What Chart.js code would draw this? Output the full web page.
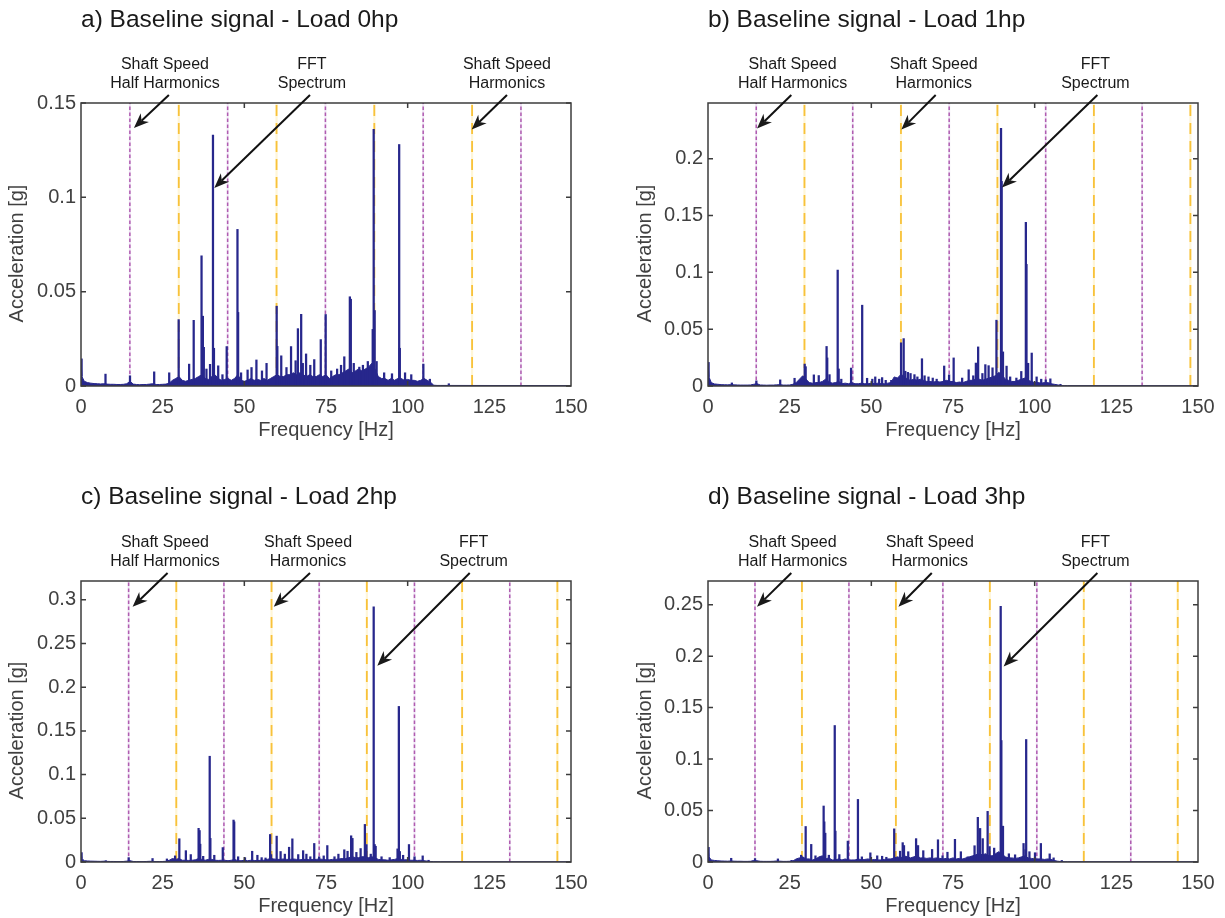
<!DOCTYPE html>
<html><head><meta charset="utf-8">
<script src="https://cdn.jsdelivr.net/npm/chart.js@4.4.1/dist/chart.umd.min.js"></script>
<style>
html,body{margin:0;padding:0;background:#fff;}
body{width:1225px;height:918px;position:relative;overflow:hidden;}
canvas{position:absolute;}
</style></head><body>
<canvas id="ca" width="612" height="459" style="left:0;top:0"></canvas>
<canvas id="cb" width="613" height="459" style="left:612px;top:0"></canvas>
<canvas id="cc" width="612" height="459" style="left:0;top:459px"></canvas>
<canvas id="cd" width="613" height="459" style="left:612px;top:459px"></canvas>
<script>
// ---------------- DATA ----------------
const X_TICKS = [0, 25, 50, 75, 100, 125, 150];
const X_TICK_MARKS = [50, 100];
const TITLES = ['a) Baseline signal - Load 0hp','b) Baseline signal - Load 1hp','c) Baseline signal - Load 2hp','d) Baseline signal - Load 3hp'];
const X_LABEL = 'Frequency [Hz]';
const Y_LABEL = 'Acceleration [g]';

// frequencies of the noise-floor envelope samples (Hz)
const FLOOR_HZ = [0, 0.3,
 1,2,3,4,5,6,7,8,9,10,
 11,12,13,14,15,16,17,18,19,20,
 21,22,23,24,25,26,27,28,29,30,
 31,32,33,34,35,36,37,38,39,40,
 41,42,43,44,45,46,47,48,49,50,
 51,52,53,54,55,56,57,58,59,60,
 61,62,63,64,65,66,67,68,69,70,
 71,72,73,74,75,76,77,78,79,80,
 81,82,83,84,85,86,87,88,89,90,
 91,92,93,94,95,96,97,98,99,100,
 101,102,103,104,105,106,107,108,109,110,
 150];

const A_FLOOR = [0.0145, 0.005,
 0.0025,0.0018,0.0015,0.0013,0.0012,0.0011,0.0012,0.0010,0.0009,0.0009,
 0.0008,0.0008,0.0009,0.0012,0.0025,0.0010,0.0008,0.0007,0.0008,0.0008,
 0.0010,0.0012,0.0008,0.0008,0.0009,0.0010,0.0015,0.0030,0.0040,0.0050,
 0.0030,0.0025,0.0030,0.0035,0.0040,0.0050,0.0060,0.0040,0.0035,0.0050,
 0.0060,0.0040,0.0030,0.0035,0.0040,0.0030,0.0040,0.0060,0.0030,0.0025,
 0.0030,0.0040,0.0030,0.0035,0.0030,0.0040,0.0030,0.0040,0.0050,0.0060,
 0.0050,0.0050,0.0060,0.0060,0.0070,0.0060,0.0070,0.0060,0.0050,0.0060,
 0.0050,0.0050,0.0060,0.0050,0.0060,0.0040,0.0050,0.0060,0.0060,0.0070,
 0.0080,0.0090,0.0070,0.0080,0.0090,0.0080,0.0090,0.0100,0.0120,0.0090,
 0.0050,0.0040,0.0040,0.0030,0.0040,0.0030,0.0040,0.0040,0.0030,0.0035,
 0.0030,0.0030,0.0025,0.0030,0.0040,0.0030,0.0020,0.0004,0.0003,0.0003,
 0.0002];
const B_FLOOR = [0.021, 0.008,
 0.0030,0.0018,0.0015,0.0012,0.0011,0.0010,0.0012,0.0010,0.0009,0.0008,
 0.0008,0.0008,0.0009,0.0015,0.0020,0.0009,0.0008,0.0007,0.0008,0.0008,
 0.0010,0.0012,0.0008,0.0008,0.0009,0.0015,0.0030,0.0060,0.0090,0.0060,
 0.0030,0.0025,0.0030,0.0030,0.0040,0.0060,0.0040,0.0025,0.0030,0.0040,
 0.0020,0.0025,0.0020,0.0030,0.0020,0.0020,0.0025,0.0020,0.0020,0.0025,
 0.0020,0.0025,0.0020,0.0020,0.0025,0.0030,0.0080,0.0070,0.0100,0.0090,
 0.0060,0.0050,0.0060,0.0050,0.0060,0.0050,0.0040,0.0040,0.0035,0.0040,
 0.0035,0.0040,0.0050,0.0040,0.0040,0.0030,0.0035,0.0030,0.0040,0.0050,
 0.0050,0.0060,0.0060,0.0050,0.0060,0.0070,0.0080,0.0090,0.0120,0.0100,
 0.0060,0.0050,0.0040,0.0040,0.0050,0.0060,0.0070,0.0050,0.0040,0.0030,
 0.0030,0.0025,0.0030,0.0030,0.0020,0.0015,0.0010,0.0004,0.0003,0.0003,
 0.0002];
const C_FLOOR = [0.011, 0.004,
 0.0015,0.0012,0.0010,0.0009,0.0008,0.0007,0.0009,0.0007,0.0006,0.0006,
 0.0005,0.0005,0.0006,0.0010,0.0015,0.0006,0.0005,0.0005,0.0005,0.0006,
 0.0008,0.0007,0.0005,0.0005,0.0006,0.0008,0.0020,0.0040,0.0030,0.0040,
 0.0020,0.0020,0.0018,0.0020,0.0025,0.0040,0.0030,0.0020,0.0030,0.0030,
 0.0020,0.0018,0.0020,0.0020,0.0015,0.0020,0.0030,0.0015,0.0015,0.0020,
 0.0015,0.0020,0.0018,0.0015,0.0020,0.0020,0.0030,0.0040,0.0035,0.0030,
 0.0030,0.0035,0.0030,0.0030,0.0035,0.0030,0.0025,0.0030,0.0030,0.0025,
 0.0030,0.0030,0.0035,0.0030,0.0025,0.0025,0.0030,0.0030,0.0035,0.0040,
 0.0040,0.0050,0.0060,0.0050,0.0050,0.0060,0.0060,0.0050,0.0060,0.0050,
 0.0030,0.0025,0.0025,0.0020,0.0025,0.0030,0.0040,0.0030,0.0025,0.0025,
 0.0020,0.0020,0.0018,0.0020,0.0015,0.0010,0.0006,0.0003,0.0003,0.0002,
 0.0002];
const D_FLOOR = [0.0145, 0.005,
 0.0020,0.0015,0.0012,0.0010,0.0009,0.0008,0.0010,0.0008,0.0007,0.0007,
 0.0006,0.0006,0.0007,0.0015,0.0012,0.0007,0.0006,0.0006,0.0006,0.0007,
 0.0010,0.0008,0.0006,0.0006,0.0007,0.0010,0.0030,0.0040,0.0050,0.0030,
 0.0030,0.0020,0.0030,0.0050,0.0060,0.0030,0.0040,0.0020,0.0020,0.0030,
 0.0020,0.0030,0.0020,0.0020,0.0020,0.0030,0.0020,0.0025,0.0030,0.0020,
 0.0025,0.0020,0.0020,0.0025,0.0030,0.0030,0.0040,0.0050,0.0040,0.0060,
 0.0050,0.0040,0.0050,0.0060,0.0040,0.0040,0.0035,0.0040,0.0035,0.0040,
 0.0035,0.0030,0.0035,0.0030,0.0040,0.0030,0.0035,0.0030,0.0040,0.0050,
 0.0060,0.0070,0.0080,0.0070,0.0080,0.0060,0.0060,0.0080,0.0100,0.0080,
 0.0050,0.0040,0.0040,0.0035,0.0040,0.0050,0.0060,0.0040,0.0035,0.0030,
 0.0030,0.0030,0.0025,0.0030,0.0025,0.0015,0.0008,0.0004,0.0003,0.0002,
 0.0002];

// spectral peaks (Hz, g)
const A_PEAK_HZ = [7.5,15.0,22.4,27.0,29.9,33.1,34.5,36.9,37.3,37.6,38.4,39.5,40.4,40.7,42.0,43.3,44.6,47.9,48.1,49.0,51.0,52.2,53.7,55.4,56.8,59.9,60.1,61.3,62.9,64.3,65.7,66.4,67.4,67.9,68.9,70.2,71.4,73.4,74.9,76.6,78.4,79.6,80.6,82.3,82.6,83.5,85.2,86.3,87.8,89.3,89.6,89.9,90.5,92.8,95.2,97.4,97.6,99.2,101.1,104.8,106.8,112.6];
const A_PEAK_G  = [0.0063,0.0054,0.0075,0.007,0.0352,0.0116,0.0348,0.069,0.037,0.0205,0.009,0.0115,0.133,0.02,0.0107,0.006,0.0209,0.083,0.039,0.007,0.0085,0.0098,0.0138,0.008,0.012,0.0423,0.021,0.016,0.0098,0.0209,0.0134,0.0304,0.038,0.012,0.017,0.011,0.014,0.0246,0.0379,0.008,0.009,0.011,0.0155,0.0473,0.046,0.012,0.010,0.011,0.013,0.03,0.136,0.04,0.013,0.007,0.0065,0.128,0.02,0.007,0.006,0.0116,0.0036,0.0012];
const B_PEAK_HZ = [7.3,14.8,22.1,26.5,29.6,29.9,32.4,33.9,36.3,36.5,37.2,39.7,40.0,40.8,43.8,47.2,48.7,50.3,51.2,52.4,53.3,54.4,56.1,59.1,59.9,60.4,61.2,62.0,63.2,64.1,65.5,66.3,67.5,68.8,70.0,72.3,73.8,75.2,77.8,79.8,81.2,82.0,82.7,84.0,84.9,85.9,87.1,88.3,89.7,89.9,90.3,91.4,92.5,94.4,95.9,97.3,97.5,98.0,99.1,100.6,102.0,103.4,104.8,107.9];
const B_PEAK_G  = [0.0027,0.0045,0.0054,0.0068,0.0193,0.017,0.0098,0.0092,0.0348,0.0247,0.01,0.102,0.015,0.006,0.0158,0.0711,0.0068,0.006,0.008,0.006,0.0074,0.005,0.005,0.038,0.0417,0.013,0.012,0.011,0.01,0.008,0.024,0.009,0.008,0.007,0.006,0.0176,0.0098,0.0247,0.007,0.0143,0.009,0.0202,0.0344,0.011,0.0188,0.0179,0.016,0.0579,0.2267,0.18,0.03,0.0175,0.008,0.007,0.0128,0.144,0.107,0.02,0.029,0.008,0.006,0.0054,0.0063,0.0015];
const C_PEAK_HZ = [7.6,14.6,21.9,26.3,28.8,30.1,32.1,33.6,36.0,36.3,36.5,37.4,39.4,39.6,40.8,43.4,46.7,46.9,48.1,50.2,52.4,54.0,55.3,56.5,57.9,58.2,59.9,61.1,62.4,63.7,64.7,66.5,68.0,69.0,70.2,71.4,72.9,74.3,75.4,77.6,78.8,80.6,81.6,82.7,83.1,84.3,85.6,86.9,87.4,88.7,89.6,89.9,90.2,92.0,94.5,96.9,97.3,97.6,98.6,100.4,102.1,104.6,106.4];
const C_PEAK_G  = [0.0015,0.005,0.004,0.0035,0.007,0.0266,0.013,0.0085,0.0385,0.036,0.0204,0.0065,0.121,0.027,0.0077,0.0165,0.048,0.046,0.006,0.005,0.0123,0.0077,0.005,0.0046,0.0315,0.0085,0.0296,0.012,0.009,0.0169,0.0265,0.0085,0.013,0.009,0.006,0.0212,0.006,0.007,0.0188,0.006,0.009,0.014,0.0123,0.030,0.027,0.011,0.0154,0.043,0.02,0.009,0.292,0.02,0.018,0.006,0.005,0.015,0.178,0.012,0.0077,0.02,0.006,0.007,0.002];
const D_PEAK_HZ = [7.1,14.4,21.4,25.6,28.5,29.9,31.6,32.9,35.4,35.6,35.9,37.0,38.8,39.0,40.2,42.8,45.9,47.1,49.7,51.8,53.3,54.6,57.0,58.8,59.6,60.0,61.3,63.7,64.3,65.9,68.6,70.4,71.8,73.3,75.6,77.4,79.5,81.6,82.6,83.3,84.1,85.6,86.2,87.6,89.6,89.8,90.3,92.1,94.0,96.6,97.2,97.4,98.4,100.1,101.9,104.6,105.8,108.3];
const D_PEAK_G  = [0.0036,0.0033,0.003,0.0016,0.0066,0.0345,0.0171,0.006,0.0544,0.039,0.028,0.0066,0.1326,0.03,0.0072,0.0203,0.0608,0.005,0.0089,0.006,0.0056,0.0046,0.0322,0.0105,0.0188,0.016,0.01,0.0227,0.016,0.011,0.0122,0.0216,0.006,0.0095,0.022,0.01,0.005,0.0158,0.0434,0.0326,0.0227,0.0492,0.015,0.0135,0.2483,0.118,0.0348,0.008,0.007,0.018,0.012,0.119,0.01,0.009,0.018,0.0079,0.004,0.0015];

// shaft speed half harmonics / harmonics (Hz)
const A_HALF_HZ = [14.96, 44.89, 74.82, 104.75, 134.68];
const A_HARM_HZ = [29.93, 59.86, 89.79, 119.72];
const B_HALF_HZ = [14.77, 44.30, 73.83, 103.37, 132.90];
const B_HARM_HZ = [29.53, 59.07, 88.60, 118.13, 147.67];
const C_HALF_HZ = [14.58, 43.75, 72.92, 102.08, 131.25];
const C_HARM_HZ = [29.17, 58.33, 87.50, 116.67, 145.83];
const D_HALF_HZ = [14.38, 43.14, 71.90, 100.66, 129.42];
const D_HARM_HZ = [28.76, 57.52, 86.28, 115.04, 143.80];

// y axis limits and tick labels
const A_YMAX = 0.15,  A_Y_TICKS = [0, 0.05, 0.1, 0.15];
const B_YMAX = 0.249, B_Y_TICKS = [0, 0.05, 0.1, 0.15, 0.2];
const C_YMAX = 0.3215, C_Y_TICKS = [0, 0.05, 0.1, 0.15, 0.2, 0.25, 0.3];
const D_YMAX = 0.273, D_Y_TICKS = [0, 0.05, 0.1, 0.15, 0.2, 0.25];

// annotation texts and arrow targets
const NOTE_HALF = ['Shaft Speed', 'Half Harmonics'];
const NOTE_HARM = ['Shaft Speed', 'Harmonics'];
const NOTE_FFT  = ['FFT', 'Spectrum'];
const A_NOTES = [
 {lines: NOTE_HALF, textHz: 25.7, tailHz: 26.9, tipHz: 16.2, tipG: 0.1368},
 {lines: NOTE_FFT,  textHz: 70.7, tailHz: 70.1, tipHz: 40.8, tipG: 0.105},
 {lines: NOTE_HARM, textHz: 130.4, tailHz: 130.4, tipHz: 119.6, tipG: 0.136}];
const B_NOTES = [
 {lines: NOTE_HALF, textHz: 25.9, tailHz: 25.5, tipHz: 15.0, tipG: 0.2265},
 {lines: NOTE_HARM, textHz: 69.1, tailHz: 69.7, tipHz: 59.2, tipG: 0.2256},
 {lines: NOTE_FFT,  textHz: 118.6, tailHz: 119.2, tipHz: 90.0, tipG: 0.1746}];
const C_NOTES = [
 {lines: NOTE_HALF, textHz: 25.7, tailHz: 26.5, tipHz: 15.8, tipG: 0.292},
 {lines: NOTE_HARM, textHz: 69.5, tailHz: 70.1, tipHz: 59.0, tipG: 0.292},
 {lines: NOTE_FFT,  textHz: 120.2, tailHz: 119.0, tipHz: 90.7, tipG: 0.2244}];
const D_NOTES = [
 {lines: NOTE_HALF, textHz: 25.9, tailHz: 25.5, tipHz: 15.0, tipG: 0.248},
 {lines: NOTE_HARM, textHz: 67.9, tailHz: 68.5, tipHz: 58.3, tipG: 0.248},
 {lines: NOTE_FFT,  textHz: 118.6, tailHz: 119.2, tipHz: 90.5, tipG: 0.190}];

// ---------------- STYLE / LAYOUT ----------------
const NAVY = '#27278c';
const MAG = '#b05cb0', MAG_PALE = '#eee5f4';
const YEL = '#f8c23a', YEL_PALE = '#fff6d8';
const AXIS = '#3c3c3c', TXT = '#404040';
const FONT = '"Liberation Sans", Arial, Helvetica, sans-serif';
Chart.defaults.font.family = FONT;

const LAYOUTS = {
 ca: {yW: 81, padR: 41, tTop: 5.6, tBot: 68.6, xH: 73, xtBot: 16.3, ytX: 17.5},
 cb: {yW: 96, padR: 27, tTop: 5.6, tBot: 68.6, xH: 73, xtBot: 16.3, ytX: 33},
 cc: {yW: 81, padR: 41, tTop: 23.6, tBot: 69.6, xH: 56, xtBot: 0, ytX: 17.5},
 cd: {yW: 96, padR: 27, tTop: 23.6, tBot: 69.6, xH: 56, xtBot: 0, ytX: 33}
};

const boxPlugin = {
 id: 'matlabBox',
 afterDatasetsDraw(chart, args, opts) {
  const {ctx, chartArea: a, scales: {x, y}} = chart;
  ctx.save();
  ctx.strokeStyle = AXIS; ctx.lineWidth = 1.5;
  ctx.beginPath();
  for (const v of opts.yTicks) {
   const py = y.getPixelForValue(v);
   ctx.moveTo(a.left, py); ctx.lineTo(a.left + 5, py);
   ctx.moveTo(a.right, py); ctx.lineTo(a.right - 5, py);
  }
  for (const v of X_TICK_MARKS) {
   const px = x.getPixelForValue(v);
   ctx.moveTo(px, a.bottom); ctx.lineTo(px, a.bottom - 5);
   ctx.moveTo(px, a.top); ctx.lineTo(px, a.top + 5);
  }
  ctx.stroke();
  ctx.strokeRect(a.left, a.top, a.right - a.left, a.bottom - a.top);
  // y axis label (MATLAB places it slightly below the axis centre)
  ctx.fillStyle = TXT;
  ctx.font = '20px ' + FONT;
  ctx.textAlign = 'center'; ctx.textBaseline = 'middle';
  ctx.translate(opts.ytX, (a.top + a.bottom) / 2 + 9);
  ctx.rotate(-Math.PI / 2);
  ctx.fillText(Y_LABEL, 0, 0);
  ctx.restore();
 }
};

function drawArrow(ctx, x0, y0, x1, y1) {
 const ang = Math.atan2(y1 - y0, x1 - x0), L = 15, W = 6;
 const c = Math.cos(ang), s = Math.sin(ang);
 const bx = x1 - L * c, by = y1 - L * s;
 const nx = x1 - 0.7 * L * c, ny = y1 - 0.7 * L * s;
 ctx.beginPath(); ctx.moveTo(x0, y0); ctx.lineTo(nx, ny); ctx.stroke();
 ctx.beginPath();
 ctx.moveTo(x1, y1);
 ctx.lineTo(bx + W * s, by - W * c);
 ctx.lineTo(nx, ny);
 ctx.lineTo(bx - W * s, by + W * c);
 ctx.closePath(); ctx.fill();
}

const notePlugin = {
 id: 'notes',
 afterDraw(chart, args, opts) {
  const {ctx, chartArea: a, scales: {x, y}} = chart;
  ctx.save();
  ctx.fillStyle = '#1a1a1a'; ctx.strokeStyle = '#111'; ctx.lineWidth = 2;
  ctx.font = '16px ' + FONT;
  ctx.textAlign = 'center'; ctx.textBaseline = 'middle';
  for (const n of opts.notes) {
   const tx = x.getPixelForValue(n.textHz);
   ctx.fillText(n.lines[0], tx, a.top - 38.5);
   ctx.fillText(n.lines[1], tx, a.top - 19);
   drawArrow(ctx, x.getPixelForValue(n.tailHz), a.top - 8, x.getPixelForValue(n.tipHz), y.getPixelForValue(n.tipG));
  }
  ctx.restore();
 }
};

function vlines(freqs, ymax) {
 const out = [];
 freqs.forEach(f => { out.push({x: f, y: 0}, {x: f, y: ymax}, {x: f, y: null}); });
 return out;
}

function makeChart(id, title, floor, peakHz, peakG, half, harm, ymax, yTicks, notes) {
 const L = LAYOUTS[id];
 new Chart(document.getElementById(id), {
  type: 'bar',
  data: { datasets: [
   {type: 'bar', data: peakHz.map((f, i) => ({x: f, y: peakG[i]})), backgroundColor: NAVY, barThickness: 1.6, order: 0},
   {type: 'line', data: FLOOR_HZ.map((f, i) => ({x: f, y: floor[i]})), borderColor: NAVY, backgroundColor: NAVY, borderWidth: 1, pointRadius: 0, fill: 'origin', tension: 0, order: 1},
   {type: 'line', data: vlines(half, ymax), borderColor: MAG, borderWidth: 1.5, borderDash: [3.5, 2.5], pointRadius: 0, spanGaps: false, fill: false, order: 2},
   {type: 'line', data: vlines(harm, ymax), borderColor: YEL, borderWidth: 1.8, borderDash: [11, 7], pointRadius: 0, spanGaps: false, fill: false, order: 2},
   {type: 'line', data: vlines(half, ymax), borderColor: MAG_PALE, borderWidth: 2, pointRadius: 0, spanGaps: false, fill: false, order: 3},
   {type: 'line', data: vlines(harm, ymax), borderColor: YEL_PALE, borderWidth: 2.2, pointRadius: 0, spanGaps: false, fill: false, order: 3}
  ]},
  options: {
   responsive: false, animation: false, events: [],
   layout: {padding: {left: 0, right: L.padR, top: 0, bottom: 0}},
   plugins: {
    legend: {display: false}, tooltip: {enabled: false},
    title: {display: true, text: title, align: 'start', fullSize: false, color: '#1a1a1a',
            font: {size: 24.5, weight: 'normal'}, padding: {top: L.tTop - 0.3, bottom: L.tBot - 0.3}},
    matlabBox: {yTicks: yTicks, ytX: L.ytX},
    notes: {notes: notes}
   },
   scales: {
    x: {type: 'linear', min: 0, max: 150, offset: false,
        grid: {display: false, drawTicks: false}, border: {display: false},
        afterBuildTicks: s => { s.ticks = X_TICKS.map(v => ({value: v})); },
        afterFit: s => { s.height = L.xH; },
        ticks: {autoSkip: false, maxRotation: 0, padding: 9, color: TXT, font: {size: 20}, callback: v => String(v)},
        title: {display: true, text: X_LABEL, color: TXT, font: {size: 20}, padding: {top: 0, bottom: L.xtBot}}},
    y: {type: 'linear', min: 0, max: ymax,
        grid: {display: false, drawTicks: false}, border: {display: false},
        afterBuildTicks: s => { s.ticks = yTicks.map(v => ({value: v})); },
        afterFit: s => { s.width = L.yW; },
        ticks: {padding: 5, color: TXT, font: {size: 20}, callback: v => String(v)},
        title: {display: false}}
   }
  },
  plugins: [boxPlugin, notePlugin]
 });
}

makeChart('ca', TITLES[0], A_FLOOR, A_PEAK_HZ, A_PEAK_G, A_HALF_HZ, A_HARM_HZ, A_YMAX, A_Y_TICKS, A_NOTES);
makeChart('cb', TITLES[1], B_FLOOR, B_PEAK_HZ, B_PEAK_G, B_HALF_HZ, B_HARM_HZ, B_YMAX, B_Y_TICKS, B_NOTES);
makeChart('cc', TITLES[2], C_FLOOR, C_PEAK_HZ, C_PEAK_G, C_HALF_HZ, C_HARM_HZ, C_YMAX, C_Y_TICKS, C_NOTES);
makeChart('cd', TITLES[3], D_FLOOR, D_PEAK_HZ, D_PEAK_G, D_HALF_HZ, D_HARM_HZ, D_YMAX, D_Y_TICKS, D_NOTES);
</script>
</body></html>
